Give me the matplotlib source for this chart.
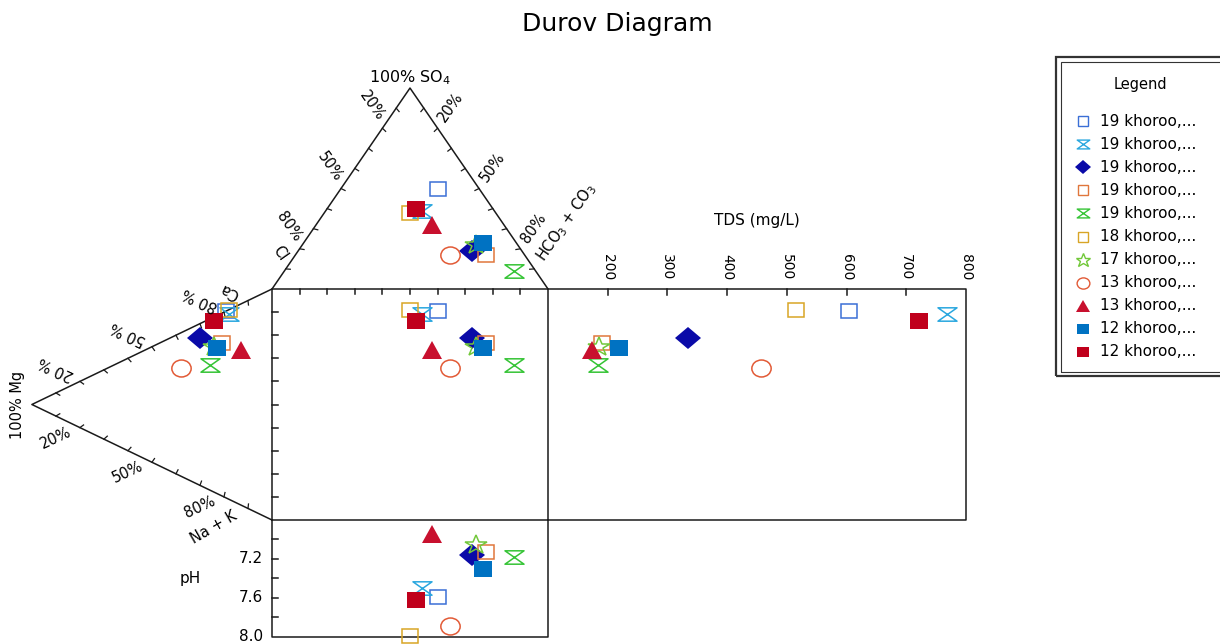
import numpy as np
import matplotlib
matplotlib.use("Agg")
import matplotlib.pyplot as plt
from matplotlib.path import Path
from matplotlib.markers import MarkerStyle
from matplotlib.transforms import Affine2D
from matplotlib.patches import Rectangle

plt.rcParams['font.family'] = ['DejaVu Sans']

# ---- data (percent of meq, TDS in mg/L) ----
names = ['19 khoroo,...', '19 khoroo,...', '19 khoroo,...', '19 khoroo,...', '19 khoroo,...',
         '18 khoroo,...', '17 khoroo,...', '13 khoroo,...', '13 khoroo,...', '12 khoroo,...',
         '12 khoroo,...']
ca   = [81, 80, 64, 66, 54, 82, 63, 47, 67, 63, 74]
mg   = [19, 18, 30, 21, 26, 18, 24, 38, 13, 23, 24]
nak  = [0, 2, 6, 13, 20, 0, 13, 15, 20, 14, 2]
so4  = [50, 39, 19, 17, 9, 38, 22, 17, 32, 23, 40]
cl   = [15, 26, 18, 14, 8, 31, 15, 27, 26, 12, 28]
hco3 = [35, 35, 63, 69, 83, 31, 63, 56, 42, 65, 32]
tds  = [604, 768, 335, 190, 184, 515, 186, 457, 173, 219, 721]
ph   = [7.59, 7.50, 7.16, 7.13, 7.18, 7.99, 7.06, 7.89, 6.94, 7.30, 7.62]

colors = ['#3b6fd6', '#2aa7df', '#0a0aa8', '#e0763c', '#35c435', '#d8a526',
          '#72c83a', '#e25a36', '#c8102e', '#0072c2', '#c0001c']
markers = ['s', 'hour', 'D', 's', 'hour', 's', '*', 'o', '^', 's', 's']
filled = [False, False, True, False, False, False, False, False, True, True, True]
msizes = [11.2, 12.8, 12, 11.2, 12.8, 11.2, 16, 13, 13.5, 12, 12]

tds_ticks = [200, 300, 400, 500, 600, 700, 800]
ph_ticks = [7.2, 7.6, 8.0]

# ---- layout (units: the central square is 1 x 1) ----
SX, SY = 276.0, 231.0          # pixels per unit
H = 0.87                       # triangle height
WT = 418.0 / SX                # width of TDS panel
TDS_MIN, TDS_MAX = 100, 800
PH_MIN, PH_MAX = 6.8, 8.0
PH_H = 116.5 / SY              # height of pH panel

CL, HC, S4 = np.array([0, 1.0]), np.array([1.0, 1.0]), np.array([0.5, 1 + H])
CA, NK, MG = np.array([0, 1.0]), np.array([0, 0.0]), np.array([-H, 0.5])


def lerp(a, b, t):
    return a + (b - a) * t


def shift(p, dx, dy):
    # dx, dy in pixels, dy positive = down
    return (p[0] + dx / SX, p[1] - dy / SY)


def anion_xy(s, c, h):
    t = s + c + h
    return (h + s / 2) / t, 1 + H * s / t


def cation_xy(c, m, n):
    t = c + m + n
    return -H * m / t, (c + m / 2) / t


def tds_x(v):
    return 1 + (v - TDS_MIN) / (TDS_MAX - TDS_MIN) * WT


def ph_y(v):
    return -(v - PH_MIN) / (PH_MAX - PH_MIN) * PH_H


hour = Path([(-1, 0.8), (1, 0.8), (-1, -0.8), (1, -0.8), (-1, 0.8)],
            [Path.MOVETO, Path.LINETO, Path.LINETO, Path.LINETO, Path.CLOSEPOLY])
stretch = Affine2D().scale(1.07, 0.94)


def mstyle(i):
    m = hour if markers[i] == 'hour' else markers[i]
    return MarkerStyle(m, transform=stretch)


fig = plt.figure(figsize=(12.2, 6.44), dpi=100)
ax = fig.add_axes([0, 0, 1, 1])
ax.set_xlim(-272 / SX, 948 / SX)
ax.set_ylim(-124 / SY, 520 / SY)
ax.axis('off')

lc = '#1a1a1a'
lw = 1.1
# frames
ax.plot([0, 1, 1, 0, 0], [0, 0, 1, 1, 0], color=lc, lw=lw)
ax.plot([1, tds_x(TDS_MAX), tds_x(TDS_MAX), 1], [1, 1, 0, 0], color=lc, lw=lw)
ax.plot([0, 0, 1, 1], [0, ph_y(PH_MAX), ph_y(PH_MAX), 0], color=lc, lw=lw)
ax.plot([CL[0], S4[0], HC[0]], [CL[1], S4[1], HC[1]], color=lc, lw=lw)
ax.plot([CA[0], MG[0], NK[0]], [CA[1], MG[1], NK[1]], color=lc, lw=lw)

# square ticks
for k in range(1, 10):
    ax.plot([k / 10, k / 10], [1, 1 - 5 / SY], color=lc, lw=lw)
    ax.plot([0, 6 / SX], [k / 10, k / 10], color=lc, lw=lw)
for v in tds_ticks[:-1]:
    ax.plot([tds_x(v)] * 2, [1, 1 - 6 / SY], color=lc, lw=lw)
for v in [7.0, 7.2, 7.4, 7.6, 7.8]:
    ax.plot([0, 6 / SX], [ph_y(v)] * 2, color=lc, lw=lw)


def tri_ticks(a, b, opp):
    for k in range(1, 10):
        p = lerp(a, b, k / 10)
        d = (opp - p) * np.array([SX, SY])
        d = d / np.hypot(*d) * 4.5 / np.array([SX, SY])
        ax.plot([p[0], p[0] + d[0]], [p[1], p[1] + d[1]], color=lc, lw=0.9)


tri_ticks(S4, CL, HC)
tri_ticks(S4, HC, CL)
tri_ticks(MG, CA, NK)
tri_ticks(MG, NK, CA)

fs = 10.5
# triangle labels
for f in (20, 50, 80):
    ax.text(*shift(lerp(S4, CL, f / 100), -11, -22), f'{f}%', rotation=-55,
            ha='center', va='center', fontsize=fs)
    ax.text(*shift(lerp(S4, HC, f / 100), 13, -21), f'{f}%', rotation=55,
            ha='center', va='center', fontsize=fs)
    ax.text(*shift(lerp(MG, CA, f / 100), -24, -13), f'{f} %', rotation=155,
            ha='center', va='center', fontsize=fs)
    ax.text(*shift(lerp(MG, NK, f / 100), -24, 10), f'{f}%', rotation=25,
            ha='center', va='center', fontsize=fs)
ax.text(*shift(lerp(S4, CL, 0.92), -3, -20), 'Cl', rotation=-55,
        ha='center', va='center', fontsize=fs)
ax.text(*shift(HC, 18, -67), 'HCO$_3$ + CO$_3$', rotation=55,
        ha='center', va='center', fontsize=fs)
ax.text(*shift(S4, 0, -10), '100% SO$_4$', ha='center', va='center', fontsize=fs + 1)
ax.text(*shift(lerp(MG, CA, 0.95), -30, -4), 'Ca', rotation=155,
        ha='center', va='center', fontsize=fs)
ax.text(*shift(NK, -58, 7), 'Na + K', rotation=30,
        ha='center', va='center', fontsize=fs)
ax.text(*shift(MG, -14, 0), '100% Mg', rotation=90,
        ha='center', va='center', fontsize=fs)

# TDS axis labels
for v in tds_ticks:
    ax.text(*shift((tds_x(v), 1), 0, -22), str(v), rotation=-90,
            ha='center', va='center', fontsize=10)
ax.text(*shift((tds_x(450), 1), 0, -68), 'TDS (mg/L)', ha='center', va='center',
        fontsize=11)

# pH axis labels
for v in ph_ticks:
    ax.text(*shift((0, ph_y(v)), -9, 0), f'{v:.1f}', ha='right', va='center',
            fontsize=11)
ax.text(*shift((0, ph_y(7.4)), -82, 0), 'pH', ha='center', va='center',
        fontsize=11)

# data points
for i in range(len(names)):
    ax_, ay_ = anion_xy(so4[i], cl[i], hco3[i])
    cx_, cy_ = cation_xy(ca[i], mg[i], nak[i])
    xs = [ax_, cx_, ax_, tds_x(tds[i]), ax_]
    ys = [ay_, cy_, cy_, cy_, ph_y(ph[i])]
    ax.plot(xs, ys, ls='none', marker=mstyle(i), ms=msizes[i],
            mfc=colors[i] if filled[i] else 'none', mec=colors[i],
            mew=0 if filled[i] else 1.1, clip_on=False)

# title
fig.text(617 / 1220, 1 - 24 / 644, 'Durov Diagram', ha='center', va='center',
         fontsize=18)

# legend box
W, Hf = 1220.0, 644.0
fig.patches.append(Rectangle((1056 / W, 1 - 376 / Hf), 200 / W, 319 / Hf,
                             transform=fig.transFigure, fill=False,
                             edgecolor='#333333', lw=1.6))
fig.patches.append(Rectangle((1060.5 / W, 1 - 372 / Hf), 200 / W, 310.5 / Hf,
                             transform=fig.transFigure, fill=False,
                             edgecolor='#333333', lw=0.8))
fig.text(1140 / W, 1 - 84 / Hf, 'Legend', ha='center', va='center', fontsize=10.5)
for i in range(len(names)):
    yy = 1 - (121 + i * 23.1) / Hf
    ax.plot([1083 / W], [yy], transform=fig.transFigure, ls='none',
            marker=mstyle(i), ms=msizes[i] * 0.66,
            mfc=colors[i] if filled[i] else 'none', mec=colors[i],
            mew=0 if filled[i] else 1.0, clip_on=False)
    fig.text(1100 / W, yy, names[i], ha='left', va='center', fontsize=11)

fig.savefig('out.png', dpi=100)
